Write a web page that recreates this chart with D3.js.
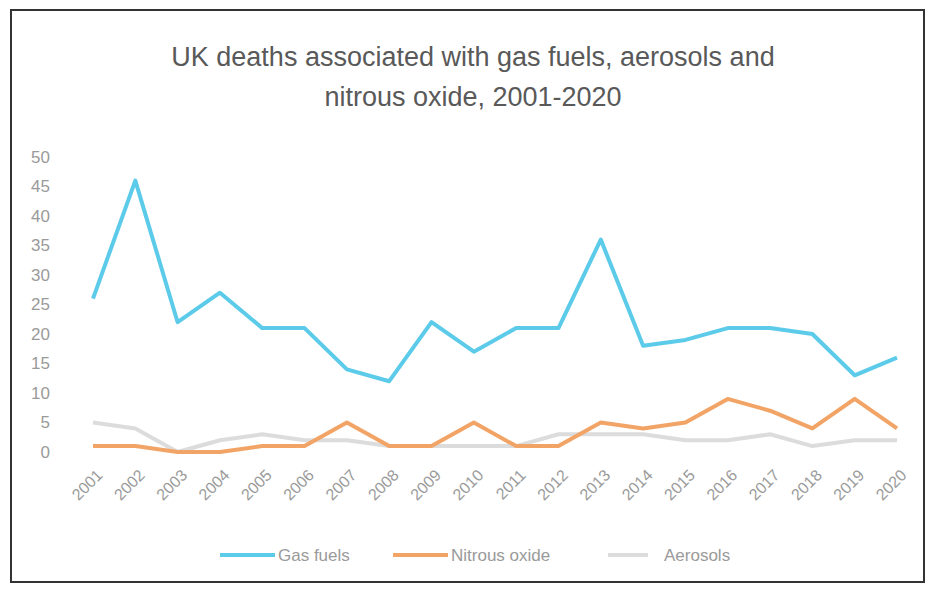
<!DOCTYPE html>
<html>
<head>
<meta charset="utf-8">
<script src="https://cdn.jsdelivr.net/npm/d3@7"></script>
<style>
  body { margin: 0; background: #fff; }
  text { font-family: "Liberation Sans", Arial, sans-serif; }
</style>
</head>
<body>
<script>
// chart data
var years = ["2001","2002","2003","2004","2005","2006","2007","2008","2009","2010",
             "2011","2012","2013","2014","2015","2016","2017","2018","2019","2020"];
var gasFuels     = [26, 46, 22, 27, 21, 21, 14, 12, 22, 17, 21, 21, 36, 18, 19, 21, 21, 20, 13, 16];
var nitrousOxide = [1, 1, 0, 0, 1, 1, 5, 1, 1, 5, 1, 1, 5, 4, 5, 9, 7, 4, 9, 4];
var aerosols     = [5, 4, 0, 2, 3, 2, 2, 1, 1, 1, 1, 3, 3, 3, 2, 2, 3, 1, 2, 2];
var yTicks = [0, 5, 10, 15, 20, 25, 30, 35, 40, 45, 50];

var series = [
  { name: "Aerosols", values: aerosols, color: "#dcdcdc" },
  { name: "Nitrous oxide", values: nitrousOxide, color: "#f2a466" },
  { name: "Gas fuels", values: gasFuels, color: "#5ccbea" }
];
var legendOrder = ["Gas fuels", "Nitrous oxide", "Aerosols"];

var svgWidth = 933;
var svgHeight = 589;

var svg = d3.select("body")
  .append("svg")
  .attr("width", svgWidth)
  .attr("height", svgHeight);

// chart frame
svg.append("rect")
  .attr("x", 11)
  .attr("y", 10)
  .attr("width", 913)
  .attr("height", 572)
  .attr("fill", "#fff")
  .attr("stroke", "#333")
  .attr("stroke-width", 2);

// title
var title = svg.append("text")
  .attr("text-anchor", "middle")
  .attr("fill", "#595959")
  .style("font-size", "27px");
title.append("tspan").attr("x", 473).attr("y", 66)
  .text("UK deaths associated with gas fuels, aerosols and");
title.append("tspan").attr("x", 473).attr("y", 106)
  .text("nitrous oxide, 2001-2020");

// scales
var x = d3.scalePoint()
  .domain(years)
  .range([93, 897]);

var y = d3.scaleLinear()
  .domain([0, 50])
  .range([452, 157]);

// y axis
var yAxis = svg.append("g")
  .attr("transform", "translate(58,0)")
  .call(d3.axisLeft(y).tickValues(yTicks).tickSize(0).tickPadding(8));
yAxis.select(".domain").remove();
yAxis.selectAll("text")
  .attr("fill", "#9a9a9a")
  .style("font-size", "17px");

// x axis
var xAxis = svg.append("g")
  .attr("transform", "translate(0,462)")
  .call(d3.axisBottom(x).tickSize(0));
xAxis.select(".domain").remove();
xAxis.selectAll("text")
  .attr("fill", "#9a9a9a")
  .style("font-size", "16px")
  .attr("text-anchor", "end")
  .attr("dy", "0.35em")
  .attr("transform", "translate(4,8) rotate(-45)");

// lines
var line = d3.line()
  .x(function(d, i) { return x(years[i]); })
  .y(function(d) { return y(d); });

svg.selectAll(".series")
  .data(series)
  .enter()
  .append("path")
  .attr("class", "series")
  .attr("d", function(d) { return line(d.values); })
  .attr("fill", "none")
  .attr("stroke", function(d) { return d.color; })
  .attr("stroke-width", 4)
  .attr("stroke-linejoin", "round");

// legend
var legendX = [220, 393, 608];
var legend = svg.selectAll(".legend")
  .data(legendOrder)
  .enter()
  .append("g")
  .attr("class", "legend")
  .attr("transform", function(d, i) { return "translate(" + legendX[i] + ",555)"; });

legend.append("line")
  .attr("x1", 0)
  .attr("x2", function(d, i) { return i == 2 ? 40 : 55; })
  .attr("stroke", function(d) { return series.find(s => s.name == d).color; })
  .attr("stroke-width", 4);

legend.append("text")
  .attr("x", function(d, i) { return i == 2 ? 56 : 58; })
  .attr("dy", "0.35em")
  .attr("fill", "#9a9a9a")
  .style("font-size", "17px")
  .text(d => d);
</script>
</body>
</html>
